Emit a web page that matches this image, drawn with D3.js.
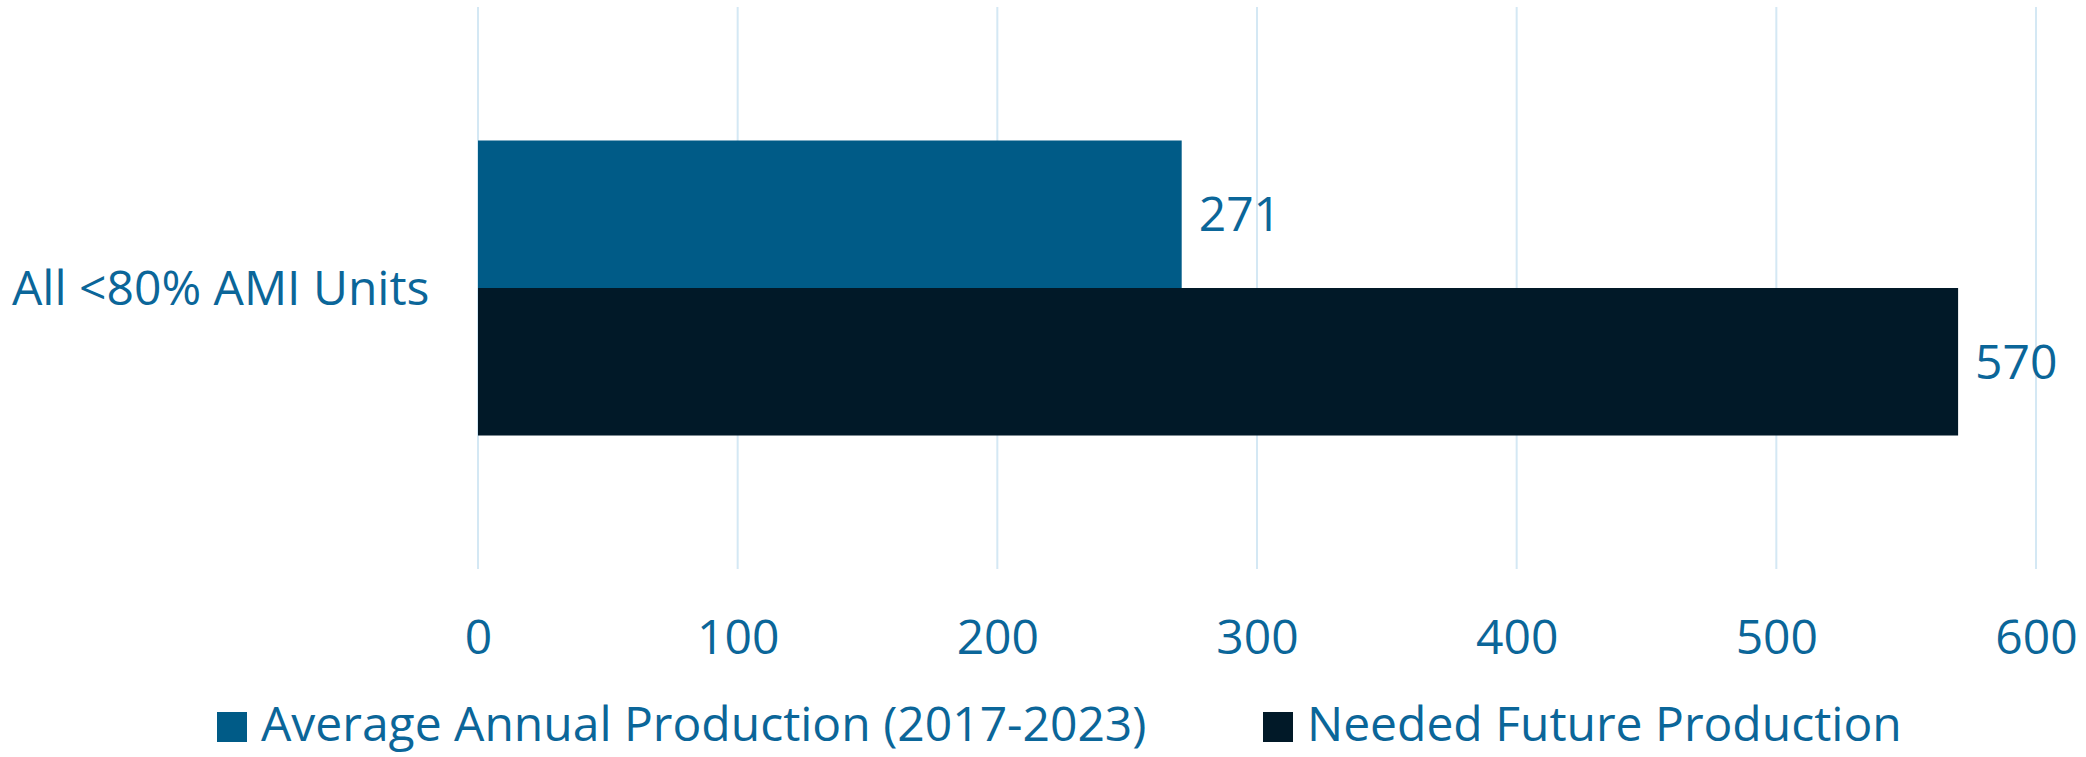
<!DOCTYPE html>
<html><head><meta charset="utf-8">
<script src="https://cdn.jsdelivr.net/npm/d3@7"></script>
<style>html,body{margin:0;padding:0;background:#fff;}svg{display:block;}</style>
</head><body>
<svg id="chart" width="2086" height="757"></svg>
<script>
const categories = ["All <80% AMI Units"];
const seriesNames = ["Average Annual Production (2017-2023)", "Needed Future Production"];
const averageAnnual = [271];
const neededFuture = [570];
const tickValues = [0, 100, 200, 300, 400, 500, 600];
const seriesColors = ["#005B87", "#011928"];

const svg = d3.select("#chart");
const font = "'Open Sans', 'Noto Sans', sans-serif";
const textColor = "#0B6699";
const fontSize = 48;

const x = d3.scaleLinear().domain([0, 600]).range([478, 2036]);
const y = d3.scaleBand().domain(categories).range([7, 569]).paddingInner(0).paddingOuter(0.4525);
const ySub = d3.scaleBand().domain(seriesNames).range([0, y.bandwidth()]);

// gridlines
svg.append("g").selectAll("line").data(tickValues).join("line")
  .attr("x1", d => x(d)).attr("x2", d => x(d))
  .attr("y1", 7).attr("y2", 569)
  .attr("stroke", "#D4E8F4").attr("stroke-width", 2);

// axis labels
const axis = d3.axisBottom(x).tickValues(tickValues).tickSize(0).tickPadding(0);
const ag = svg.append("g").attr("transform", "translate(0,620)").call(axis);
ag.select(".domain").remove();
ag.selectAll("text").attr("font-family", font).attr("font-size", fontSize)
  .attr("fill", textColor).attr("dy", "0.71em");

const rows = categories.map((c, i) => ({cat: c, values: [averageAnnual[i], neededFuture[i]]}));

const gCat = svg.append("g").selectAll("g").data(rows).join("g")
  .attr("transform", d => `translate(0,${y(d.cat)})`);

gCat.selectAll("rect").data(d => d.values.map((v, j) => ({s: seriesNames[j], v, j}))).join("rect")
  .attr("x", x(0)).attr("y", d => ySub(d.s))
  .attr("width", d => x(d.v) - x(0)).attr("height", ySub.bandwidth())
  .attr("fill", d => seriesColors[d.j]);

gCat.selectAll("text.val").data(d => d.values.map((v, j) => ({s: seriesNames[j], v, j}))).join("text")
  .attr("class", "val")
  .attr("x", d => x(d.v) + 17).attr("y", d => ySub(d.s) + ySub.bandwidth() / 2)
  .attr("dy", "0.35em")
  .attr("font-family", font).attr("font-size", fontSize).attr("fill", textColor)
  .text(d => d.v);

// category labels
svg.append("g").selectAll("text").data(categories).join("text")
  .attr("x", 12).attr("y", d => y(d) + y.bandwidth() / 2)
  .attr("dy", "0.35em")
  .attr("font-family", font).attr("font-size", fontSize).attr("fill", textColor)
  .text(d => d);

// legend
const legendX = [217, 1263];
const lg = svg.append("g").selectAll("g").data(seriesNames).join("g")
  .attr("transform", (d, i) => `translate(${legendX[i]},712)`);
lg.append("rect").attr("width", 30).attr("height", 30).attr("fill", (d, i) => seriesColors[i]);
lg.append("text").attr("x", 44).attr("y", 29)
  .attr("font-family", font).attr("font-size", fontSize).attr("fill", textColor)
  .text(d => d);
</script>
</body></html>
